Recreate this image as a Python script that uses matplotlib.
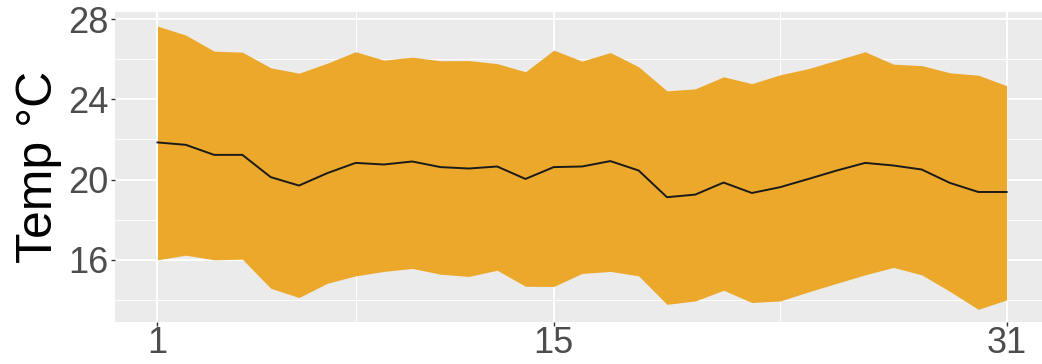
import numpy as np
import matplotlib.pyplot as plt

plt.rcParams['font.family'] = ['Liberation Sans', 'DejaVu Sans']

# daily temperature summary: mean with min/max band
day = np.arange(1, 32)
temp_mean = [21.85, 21.73, 21.23, 21.23, 20.12, 19.70, 20.32, 20.83, 20.75, 20.90,
             20.62, 20.55, 20.65, 20.03, 20.62, 20.65, 20.92, 20.45, 19.12, 19.25,
             19.85, 19.33, 19.62, 20.03, 20.45, 20.83, 20.70, 20.50, 19.83, 19.38,
             19.38]
temp_max = [27.65, 27.20, 26.40, 26.35, 25.57, 25.30, 25.80, 26.37, 25.95, 26.10,
            25.92, 25.93, 25.78, 25.37, 26.45, 25.90, 26.33, 25.62, 24.42, 24.52,
            25.12, 24.78, 25.22, 25.53, 25.95, 26.37, 25.75, 25.68, 25.32, 25.20,
            24.68]
temp_min = [16.00, 16.23, 16.00, 16.03, 14.58, 14.12, 14.83, 15.20, 15.42, 15.57,
            15.28, 15.17, 15.48, 14.68, 14.67, 15.32, 15.42, 15.20, 13.78, 13.95,
            14.48, 13.87, 13.95, 14.40, 14.83, 15.25, 15.62, 15.25, 14.42, 13.53,
            14.00]
x_ticks = [1, 15, 31]
y_ticks = [16, 20, 24, 28]

fig = plt.figure(figsize=(10.42, 3.64), dpi=100)
ax = fig.add_axes([0.1104, 0.1154, 0.8896, 0.8516])
ax.set_facecolor('#EBEBEB')

ax.fill_between(day, temp_min, temp_max, color='#EBA82B', linewidth=0, zorder=2)
ax.plot(day, temp_mean, color='#1a1a1a', linewidth=1.4, zorder=3)

ax.set_xlim(-0.5, 32.25)
ax.set_ylim(12.9, 28.35)
ax.set_xticks(x_ticks)
ax.set_xticks([8, 23], minor=True)
ax.set_yticks(y_ticks)
ax.set_yticks([14, 18, 22, 26], minor=True)
ax.grid(which='major', color='white', linewidth=1.4, zorder=0)
ax.grid(which='minor', color='white', linewidth=0.7, zorder=0)
ax.set_axisbelow(True)
for s in ax.spines.values():
    s.set_visible(False)

ax.tick_params(which='major', length=3, width=1, color='#333333',
               labelsize=26, labelcolor='#4D4D4D', pad=2)
ax.tick_params(axis='x', pad=0)
ax.tick_params(which='minor', length=0)
ax.set_ylabel('Temp °C', fontsize=36, color='black', labelpad=4)

fig.savefig('out.png', dpi=100)
